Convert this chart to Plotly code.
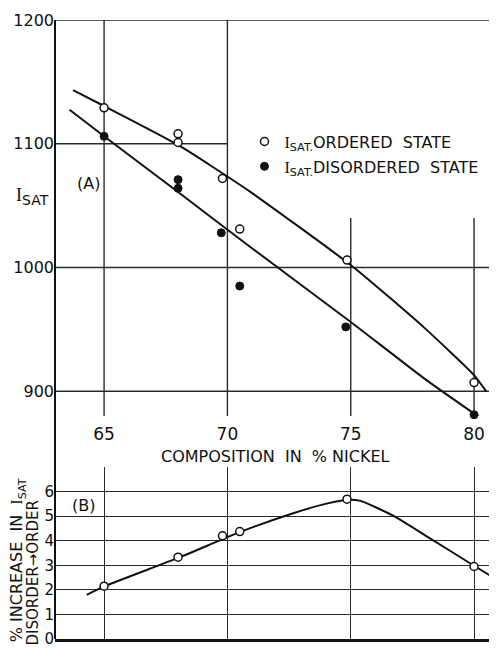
import plotly.graph_objects as go

# ---------------- data ----------------
comp_ordered = [65, 68, 68, 69.8, 70.5, 74.85, 80]
isat_ordered = [1129, 1108, 1101, 1072, 1031, 1006, 907]

comp_disordered = [65, 68, 68, 69.75, 70.5, 74.8, 80]
isat_disordered = [1106, 1071, 1064, 1028, 985, 952, 881]

fit_ordered_x = [63.74, 65, 68, 70.9, 75.1, 78, 80, 80.5]
fit_ordered_y = [1143.4, 1130.5, 1099, 1061.5, 1000.4, 951, 913, 899.7]

fit_disordered_x = [63.6, 65, 68, 70.9, 75, 78, 80.5]
fit_disordered_y = [1127.5, 1106, 1061, 1017, 956, 910, 875]

comp_increase = [65, 68, 69.8, 70.5, 74.85, 80]
pct_increase = [2.15, 3.33, 4.2, 4.37, 5.69, 2.95]

fit_increase_x = [64.3, 65, 68, 70.5, 72.7, 74.1, 74.9, 75.4, 76.7, 78.1, 80, 80.7]
fit_increase_y = [1.8, 2.14, 3.3, 4.35, 5.13, 5.53, 5.67, 5.62, 5.03, 4.17, 2.98, 2.55]

x_ticks = [65, 70, 75, 80]
isat_ticks = [900, 1000, 1100, 1200]
pct_ticks = [0, 1, 2, 3, 4, 5, 6]

# ---------------- figure ----------------
FONT = "DejaVu Sans"
SERIF = "Liberation Serif"
INK = "#111"
GRID = "#2a2a2a"
XR = [63.01, 80.93]

fig = go.Figure()

line_style = dict(color=INK, width=2, shape="spline", smoothing=0.5)

fig.add_trace(go.Scatter(x=fit_ordered_x, y=fit_ordered_y, mode="lines", line=line_style,
                         showlegend=False, xaxis="x", yaxis="y", hoverinfo="skip"))
fig.add_trace(go.Scatter(x=fit_disordered_x, y=fit_disordered_y, mode="lines", line=line_style,
                         showlegend=False, xaxis="x", yaxis="y", hoverinfo="skip"))
fig.add_trace(go.Scatter(x=comp_ordered, y=isat_ordered, mode="markers",
                         name=f"<span style='font-family:{SERIF}'>I</span><sub>SAT.</sub>ORDERED  STATE",
                         legendgroup="a",
                         marker=dict(symbol="circle", size=8, color="white",
                                     line=dict(color=INK, width=1.5)),
                         cliponaxis=False, xaxis="x", yaxis="y"))
fig.add_trace(go.Scatter(x=comp_disordered, y=isat_disordered, mode="markers",
                         name=f"<span style='font-family:{SERIF}'>I</span><sub>SAT.</sub>DISORDERED  STATE",
                         legendgroup="b",
                         marker=dict(symbol="circle", size=8, color=INK,
                                     line=dict(color=INK, width=1)),
                         cliponaxis=False, xaxis="x", yaxis="y"))

fig.add_trace(go.Scatter(x=fit_increase_x, y=fit_increase_y, mode="lines", line=line_style,
                         showlegend=False, xaxis="x2", yaxis="y2", hoverinfo="skip"))
fig.add_trace(go.Scatter(x=comp_increase, y=pct_increase, mode="markers",
                         marker=dict(symbol="circle", size=8, color="white",
                                     line=dict(color=INK, width=1.5)),
                         showlegend=False, cliponaxis=False, xaxis="x2", yaxis="y2"))

shapes = []
# top panel horizontal grid lines
for v in isat_ticks:
    if v == 1100:
        shapes.append(dict(type="line", xref="x", yref="y", x0=XR[0], x1=70, y0=v, y1=v,
                           line=dict(color=GRID, width=1.3), layer="below"))
    else:
        shapes.append(dict(type="line", xref="x domain", yref="y", x0=0, x1=1, y0=v, y1=v,
                           line=dict(color=GRID, width=1.6 if v == 1200 else 1.3), layer="below"))
# top panel vertical grid lines
for v in x_ticks:
    if v in (65, 70):
        shapes.append(dict(type="line", xref="x", yref="y domain", x0=v, x1=v, y0=0, y1=1,
                           line=dict(color=GRID, width=1.4), layer="below"))
    else:
        shapes.append(dict(type="line", xref="x", yref="y", x0=v, x1=v, y0=880, y1=1040,
                           line=dict(color=GRID, width=1.4), layer="below"))
# continuous left axis line
shapes.append(dict(type="line", xref="paper", yref="paper", x0=0, x1=0, y0=0, y1=1,
                   line=dict(color=INK, width=2)))

annotations = [
    dict(text="(A)", x=64.35, y=1068, xref="x", yref="y", showarrow=False,
         xanchor="center", yanchor="middle", font=dict(size=16, color=INK, family=FONT)),
    dict(text=f"<span style='font-family:{SERIF};font-size:18px'>I</span><sub>SAT</sub>",
         x=-0.051, y=1057, xref="paper", yref="y", showarrow=False,
         xanchor="center", yanchor="middle", font=dict(size=20, color=INK, family=FONT)),
    dict(text="(B)", x=64.15, y=5.45, xref="x2", yref="y2", showarrow=False,
         xanchor="center", yanchor="middle", font=dict(size=16, color=INK, family=FONT)),
    dict(text="COMPOSITION  IN  % NICKEL", x=0.498, y=0.2956, xref="paper", yref="paper",
         xanchor="center", yanchor="middle", showarrow=False,
         font=dict(size=16, color=INK, family=FONT)),
    dict(text=f"% INCREASE  IN  <span style='font-family:{SERIF}'>I</span><sub>SAT</sub>",
         x=-0.083, y=-0.008, xref="paper", yref="paper", textangle=-90,
         xanchor="center", yanchor="bottom", showarrow=False,
         font=dict(size=16, color=INK, family=FONT)),
    dict(text="DISORDER→ORDER",
         x=-0.05, y=-0.013, xref="paper", yref="paper", textangle=-90,
         xanchor="center", yanchor="bottom", showarrow=False,
         font=dict(size=15, color=INK, family=FONT)),
]

# the page body adds an 8px offset, so the figure is 8px smaller and margins shifted
fig.update_layout(
    width=489, height=640,
    margin=dict(l=47, r=0, t=12, b=9, autoexpand=False),
    paper_bgcolor="white", plot_bgcolor="white",
    font=dict(family=FONT, color=INK),
    showlegend=True,
    legend=dict(x=0.4287, y=0.831, xanchor="left", yanchor="top",
                font=dict(size=16, color=INK, family=FONT),
                bgcolor="rgba(0,0,0,0)", tracegroupgap=1, itemwidth=30),
    xaxis=dict(domain=[0, 1], range=XR, anchor="y", showgrid=False, zeroline=False,
               showline=False, tickvals=x_ticks, ticks="outside", ticklen=3,
               tickcolor="rgba(0,0,0,0)", tickfont=dict(size=17, family=FONT, color=INK),
               automargin=False),
    yaxis=dict(domain=[0.3603, 1], range=[880, 1200], anchor="x", showgrid=False,
               zeroline=False, showline=False, tickvals=isat_ticks, ticks="",
               tickfont=dict(size=16, family=FONT, color=INK), automargin=False,
               ticklabeloverflow="allow"),
    xaxis2=dict(domain=[0, 1], range=XR, anchor="y2", showgrid=True, gridcolor=GRID,
                gridwidth=1.4, zeroline=False, showline=True, linecolor=INK, linewidth=2.5,
                tickvals=x_ticks, showticklabels=False, ticks="", automargin=False),
    yaxis2=dict(domain=[0, 0.2779], range=[0, 7], anchor="x2", showgrid=True,
                gridcolor=GRID, gridwidth=1.2, zeroline=False, showline=False,
                tickvals=pct_ticks, ticks="", tickfont=dict(size=15, family=FONT, color=INK),
                automargin=False, ticklabeloverflow="allow"),
    shapes=shapes,
    annotations=annotations,
)

fig.write_html("out.html")
